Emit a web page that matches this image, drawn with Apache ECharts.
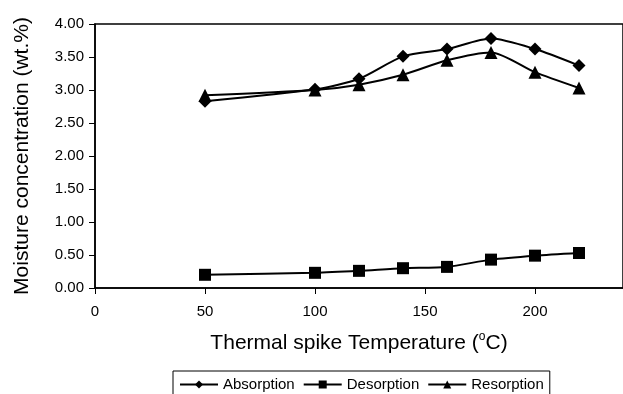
<!DOCTYPE html>
<html>
<head>
<meta charset="utf-8">
<script src="https://cdn.jsdelivr.net/npm/echarts@6/dist/echarts.min.js"></script>
<style>html,body{margin:0;padding:0;background:#fff;}#c{width:623px;height:394px;}</style>
</head>
<body>
<div id="c"></div>
<script>
const temperatures = [50, 100, 120, 140, 160, 180, 200, 220];
const absorption = [2.83, 3.01, 3.17, 3.51, 3.62, 3.78, 3.62, 3.37];
const desorption = [0.20, 0.23, 0.26, 0.30, 0.32, 0.43, 0.49, 0.53];
const resorption = [2.92, 3.00, 3.08, 3.23, 3.45, 3.57, 3.27, 3.03];
const seriesNames = ['Absorption', 'Desorption', 'Resorption'];
const xTitle = 'Thermal spike Temperature (';
const yTitle = 'Moisture concentration (wt.%)';

function pairs(vals) { return temperatures.map((t, i) => [t, vals[i]]); }

const font = 'Liberation Sans, Arial, sans-serif';
const chart = echarts.init(document.getElementById('c'));
const mk = (name, vals, symbol, size) => ({
  name: name, type: 'line', data: pairs(vals), smooth: 0.25,
  symbol: symbol, symbolSize: size,
  lineStyle: { color: '#000', width: 2 },
  itemStyle: { color: '#000' },
  animation: false
});
chart.setOption({
  backgroundColor: '#fff',
  textStyle: { fontFamily: font },
  grid: { left: 95, right: -12, top: 24, bottom: 106, show: true, borderColor: '#000', borderWidth: 1.5, containLabel: false },
  xAxis: {
    type: 'value', min: 0, max: 240, interval: 50,
    axisLine: { show: true, lineStyle: { color: '#000', width: 1.5 } },
    axisTick: { show: true, length: 6, lineStyle: { color: '#000' } },
    axisLabel: { color: '#000', fontSize: 15, fontFamily: font, margin: 16, showMaxLabel: false },
    splitLine: { show: false },
    name: '{t|' + xTitle + '}{s|o}{t|C)}',
    nameLocation: 'middle', nameGap: 43,
    nameTextStyle: { rich: { t: { fontSize: 21, fontFamily: font, color: '#000' }, s: { fontSize: 12, fontFamily: font, color: '#000', verticalAlign: 'top', padding: [0, 0, 12, 0] } } }
  },
  yAxis: {
    type: 'value', min: 0, max: 4, interval: 0.5,
    axisLine: { show: true, lineStyle: { color: '#000', width: 1.5 } },
    axisTick: { show: true, length: 6, lineStyle: { color: '#000' } },
    axisLabel: { color: '#000', fontSize: 15, fontFamily: font, margin: 11, formatter: v => v.toFixed(2) },
    splitLine: { show: false },
    name: yTitle, nameLocation: 'middle', nameGap: 62, nameRotate: 90,
    nameTextStyle: { fontSize: 21, fontFamily: font, color: '#000' }
  },
  legend: {
    data: seriesNames, top: 371, left: 173,
    borderColor: '#000', borderWidth: 1, padding: [6, 6, 6, 6],
    itemWidth: 38, itemHeight: 10, itemGap: 8,
    textStyle: { fontSize: 15, fontFamily: font, color: '#000' }
  },
  series: [
    mk(seriesNames[0], absorption, 'diamond', 13),
    mk(seriesNames[1], desorption, 'rect', 12),
    mk(seriesNames[2], resorption, 'triangle', 13)
  ]
});
</script>
</body>
</html>
